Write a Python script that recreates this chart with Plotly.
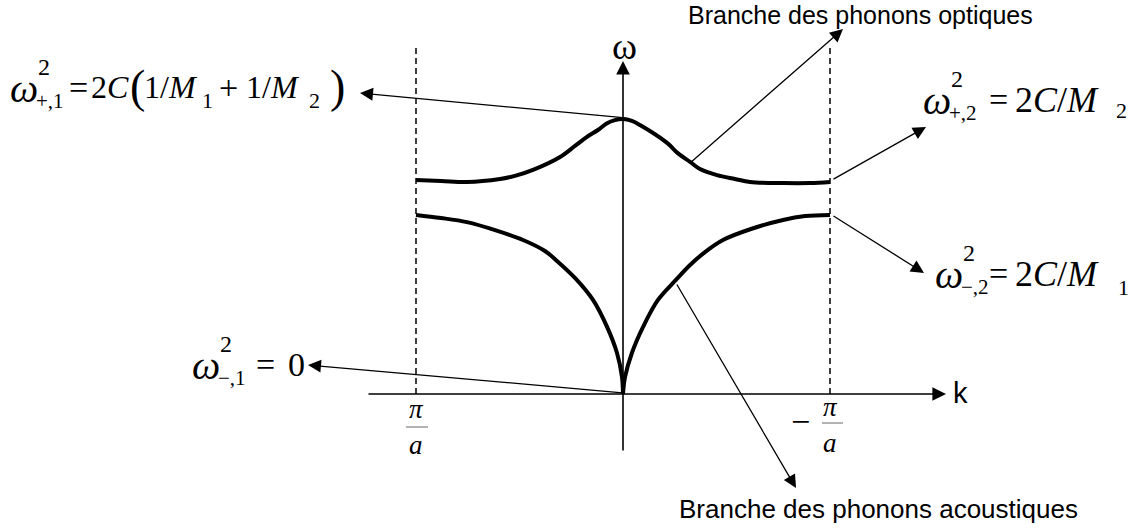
import plotly.graph_objects as go

# Wave vector k in units of pi/a, frequency omega normalised to the optical maximum
k_optical = [-1.0, -0.879, -0.754, -0.594, -0.522, -0.435, -0.304, -0.232, -0.174,
             -0.121, -0.077, -0.039, 0.0, 0.043, 0.082, 0.213, 0.266, 0.324, 0.372,
             0.454, 0.541, 0.614, 0.773, 0.903, 1.0]
w_optical = [0.778, 0.775, 0.771, 0.782, 0.793, 0.815, 0.862, 0.902, 0.935,
             0.960, 0.985, 0.996, 1.0, 0.993, 0.978, 0.913, 0.875, 0.844, 0.818,
             0.796, 0.782, 0.771, 0.767, 0.767, 0.771]

k_acoustic_left = [-1.0, -0.879, -0.754, -0.618, -0.483, -0.377, -0.319, -0.232,
                   -0.145, -0.077, -0.029, -0.005, 0.0]
w_acoustic_left = [0.651, 0.640, 0.625, 0.596, 0.560, 0.520, 0.484, 0.422,
                   0.342, 0.244, 0.149, 0.062, 0.0]
k_acoustic_right = [0.0, 0.010, 0.043, 0.097, 0.169, 0.251, 0.324, 0.396, 0.483,
                    0.618, 0.773, 0.880, 1.0]
w_acoustic_right = [0.0, 0.062, 0.149, 0.244, 0.342, 0.411, 0.469, 0.516, 0.560,
                    0.600, 0.633, 0.647, 0.651]

zone_edges = [-1.0, 1.0]
zone_labels = ["<i>π</i>", "<i>π</i>"]

W, H = 1144, 529
X0, SX = 623, 207   # pixel column of k = 0, pixels per pi/a
Y0, SY = 394, 275   # pixel row of omega = 0, pixels per unit omega


def kx(px):
    return (px - X0) / SX


def wy(py):
    return (Y0 - py) / SY


fig = go.Figure()

curve = dict(color="black", width=4, shape="spline", smoothing=1.0)
fig.add_trace(go.Scatter(x=k_optical, y=w_optical, mode="lines", line=curve))
fig.add_trace(go.Scatter(x=k_acoustic_left, y=w_acoustic_left, mode="lines", line=curve))
fig.add_trace(go.Scatter(x=k_acoustic_right, y=w_acoustic_right, mode="lines", line=curve))

shapes = []
# Brillouin zone boundaries
for ke in zone_edges:
    shapes.append(dict(type="line", xref="x", yref="y", x0=ke, x1=ke, y0=0, y1=wy(48),
                       line=dict(color="black", width=1.5, dash="6px,4px")))
# fraction bars of the pi/a labels
shapes.append(dict(type="line", xref="x", yref="y", x0=kx(406), x1=kx(428), y0=wy(427), y1=wy(427),
                   line=dict(color="#666", width=1)))
shapes.append(dict(type="line", xref="x", yref="y", x0=kx(822), x1=kx(843), y0=wy(423), y1=wy(423),
                   line=dict(color="#666", width=1)))

ann = []


def arrow(tail, head, width=1.3, size=2.0):
    ann.append(dict(x=kx(head[0]), y=wy(head[1]), ax=kx(tail[0]), ay=wy(tail[1]),
                    xref="x", yref="y", axref="x", ayref="y", text="", showarrow=True,
                    arrowhead=2, arrowsize=size, arrowwidth=width, arrowcolor="black",
                    standoff=0, startstandoff=0))


# axes
arrow((367, Y0), (946, Y0), width=1.6, size=1.7)
arrow((X0, 452), (X0, 61), width=1.6, size=1.7)

# pointers to the labels
arrow((627, 118), (360, 93))
arrow((690, 163), (843, 29))
arrow((832, 180), (926, 127))
arrow((832, 215), (924, 273))
arrow((624, 393), (308, 365))
arrow((676, 283), (796, 488))

SERIF = "Liberation Serif"
SANS = "Liberation Sans"


def text(s, px, py, size, family=SERIF, xanchor="left", yanchor="middle", color="black"):
    ann.append(dict(x=kx(px), y=wy(py), xref="x", yref="y", text=s, showarrow=False,
                    xanchor=xanchor, yanchor=yanchor,
                    font=dict(family=family, size=size, color=color)))


def omega_label(x, y, sub):
    """omega with a stacked superscript 2 and a subscript index."""
    text("<i>ω</i>", x, y, 40)
    text("2", x + 28, y - 21, 24)
    text(sub, x + 26, y + 13, 21)


BIG = 32

# omega_{+,1}^2 = 2C(1/M1 + 1/M2)
omega_label(8, 88, "+,1")
text("=", 67, 87, 34)
text("2<i>C</i>", 89, 87, BIG)
text("(", 128, 86, 46)
text("1/<i>M</i>", 142, 87, BIG)
text("1", 200, 100, 22)
text("+", 217, 87, 34)
text("1/<i>M</i>", 244, 87, BIG)
text("2", 307, 100, 22)
text(")", 328, 86, 46)

# omega_{+,2}^2 = 2C/M2
omega_label(921, 100, "+,2")
text("=", 987, 99, 34)
text("2<i>C</i>/<i>M</i>", 1013, 100, 36)
text("2", 1114, 110, 22)

# omega_{-,2}^2 = 2C/M1
omega_label(933, 274, "\u2212,2")
text("=", 987, 273, 34)
text("2<i>C</i>/<i>M</i>", 1013, 274, 36)
text("1", 1116, 287, 22)

# omega_{-,1}^2 = 0
omega_label(190, 365, "\u2212,1")
text("=", 254, 364, 34)
text("0", 286, 364, 34)

# zone-edge labels
text(zone_labels[0], 416, 409, 27, xanchor="center")
text("<i>a</i>", 416, 445, 27, xanchor="center")
text("\u2212", 800, 421, 34, xanchor="center")
text(zone_labels[1], 830, 407, 27, xanchor="center")
text("<i>a</i>", 830, 443, 27, xanchor="center")

# axis names
text("k", 951, 393, 29, family=SANS)
text("ω", 624, 46, 38, xanchor="center")

# branch names
text("Branche des phonons optiques", 686, 15, 25, family=SANS)
text("Branche des phonons acoustiques", 677, 509, 26, family=SANS)

fig.update_layout(
    width=W, height=H,
    margin=dict(l=0, r=0, t=0, b=0),
    paper_bgcolor="white", plot_bgcolor="white",
    showlegend=False,
    xaxis=dict(range=[kx(0), kx(W)], visible=False, fixedrange=True),
    yaxis=dict(range=[wy(H), wy(0)], visible=False, fixedrange=True),
    shapes=shapes, annotations=ann,
)

fig.write_html("out.html", config={"displayModeBar": False})
